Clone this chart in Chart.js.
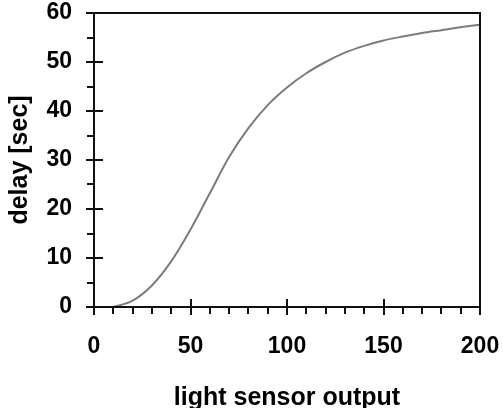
<!DOCTYPE html>
<html>
<head>
<meta charset="utf-8">
<script src="https://cdn.jsdelivr.net/npm/chart.js@4.4.1/dist/chart.umd.min.js"></script>
<style>
  html, body { margin: 0; padding: 0; background: #fff; overflow: hidden; }
  #wrap { width: 503px; height: 408px; position: relative; }
</style>
</head>
<body>
<div id="wrap"><canvas id="chart"></canvas></div>
<script>
// light sensor output -> delay
const sensorOutput = [10, 20, 30, 40, 50, 60, 70, 80, 90, 100, 110, 120, 130, 140, 150, 160, 170, 180, 190, 200];
const delaySec = [0, 1.3, 4.4, 9.3, 15.8, 23.2, 30.6, 36.5, 41.2, 44.8, 47.7, 50.0, 51.9, 53.3, 54.4, 55.2, 55.9, 56.5, 57.1, 57.6];

const xMajor = [0, 50, 100, 150, 200];
const xMinor = [10, 20, 30, 40, 60, 70, 80, 90, 110, 120, 130, 140, 160, 170, 180, 190];
const yMajor = [0, 10, 20, 30, 40, 50, 60];
const yMinor = [5, 15, 25, 35, 45, 55];

const FONT = "'Liberation Sans', Arial, sans-serif";

// box + crossing major ticks + outside minor ticks
const frameTicks = {
  id: "frameTicks",
  afterDraw(chart) {
    const { ctx, chartArea: a, scales } = chart;
    const xs = scales.x, ys = scales.y;
    ctx.save();
    ctx.strokeStyle = "#111";
    ctx.lineWidth = 2;
    ctx.lineCap = "butt";
    ctx.strokeRect(a.left, a.top, a.right - a.left, a.bottom - a.top);
    ctx.beginPath();
    xMajor.forEach(v => {
      const px = Math.round(xs.getPixelForValue(v));
      ctx.moveTo(px, a.bottom - 8); ctx.lineTo(px, a.bottom + 8);
    });
    xMinor.forEach(v => {
      const px = Math.round(xs.getPixelForValue(v));
      ctx.moveTo(px, a.bottom); ctx.lineTo(px, a.bottom + 7);
    });
    yMajor.forEach(v => {
      const py = Math.round(ys.getPixelForValue(v));
      ctx.moveTo(a.left - 8, py); ctx.lineTo(a.left + 9, py);
    });
    yMinor.forEach(v => {
      const py = Math.round(ys.getPixelForValue(v));
      ctx.moveTo(a.left - 7, py); ctx.lineTo(a.left, py);
    });
    ctx.stroke();
    ctx.restore();
  }
};

new Chart(document.getElementById("chart"), {
  type: "line",
  data: {
    datasets: [{
      data: sensorOutput.map((x, i) => ({ x: x, y: delaySec[i] })),
      borderColor: "#7c7c7c",
      borderWidth: 2,
      pointRadius: 0,
      cubicInterpolationMode: "monotone",
      fill: false
    }]
  },
  options: {
    responsive: true,
    maintainAspectRatio: false,
    animation: false,
    layout: { padding: { top: 13, right: 23, bottom: 0, left: 0 } },
    plugins: { legend: { display: false }, tooltip: { enabled: false } },
    scales: {
      x: {
        type: "linear",
        min: 0, max: 200,
        afterFit(s) { s.height = 101; s.paddingLeft = 0; s.paddingRight = 0; },
        ticks: {
          stepSize: 50,
          padding: 18,
          color: "#000",
          font: { family: FONT, size: 23, weight: "bold" },
          maxRotation: 0
        },
        grid: { drawOnChartArea: false, drawTicks: true, tickLength: 8, tickColor: "rgba(0,0,0,0)" },
        border: { display: false },
        title: {
          display: true,
          text: "light sensor output",
          color: "#000",
          font: { family: FONT, size: 25, weight: "bold" },
          padding: { top: 0, bottom: -5 }
        }
      },
      y: {
        min: 0, max: 60,
        afterFit(s) { s.width = 94; s.paddingTop = 0; s.paddingBottom = 0; },
        ticks: {
          stepSize: 10,
          padding: 14,
          color: "#000",
          font: { family: FONT, size: 23, weight: "bold" }
        },
        grid: { drawOnChartArea: false, drawTicks: true, tickLength: 8, tickColor: "rgba(0,0,0,0)" },
        border: { display: false },
        title: {
          display: true,
          text: "delay [sec]",
          color: "#000",
          font: { family: FONT, size: 25, weight: "bold" },
          padding: { top: 5, bottom: 0 }
        }
      }
    }
  },
  plugins: [frameTicks]
});
</script>
</body>
</html>
